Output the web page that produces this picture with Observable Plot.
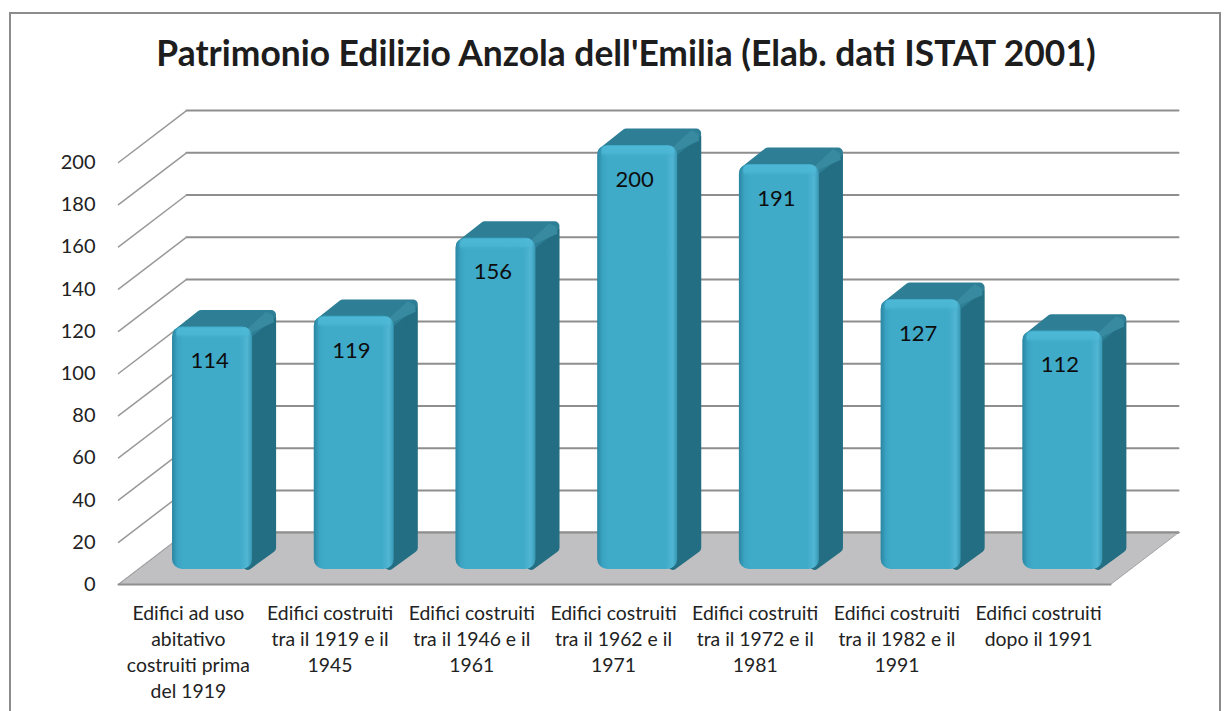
<!DOCTYPE html>
<html><head><meta charset="utf-8">
<script src="https://cdn.jsdelivr.net/npm/d3@7"></script>
<script src="https://cdn.jsdelivr.net/npm/@observablehq/plot@0.6"></script>
<style>
html,body{margin:0;padding:0;background:#fff;width:1231px;height:711px;overflow:hidden}
#frame{position:absolute;left:9px;top:12px;width:1212px;height:720px;border:2px solid #8c8c8c;box-sizing:border-box}
#title{position:absolute;left:0;top:31px;width:1252px;text-align:center;font:700 35.4px Lato,sans-serif;color:#1d1d1d;white-space:nowrap}
#chart{position:absolute;left:0;top:90px}
</style></head><body>
<div id="frame"></div>
<div id="title">Patrimonio Edilizio Anzola dell'Emilia (Elab. dati ISTAT 2001)</div>
<div id="chart"></div>
<script>
const chartTitle = "Patrimonio Edilizio Anzola dell'Emilia (Elab. dati ISTAT 2001)";
const categories = [
  "Edifici ad uso\nabitativo\ncostruiti prima\ndel 1919",
  "Edifici costruiti\ntra il 1919 e il\n1945",
  "Edifici costruiti\ntra il 1946 e il\n1961",
  "Edifici costruiti\ntra il 1962 e il\n1971",
  "Edifici costruiti\ntra il 1972 e il\n1981",
  "Edifici costruiti\ntra il 1982 e il\n1991",
  "Edifici costruiti\ndopo il 1991"
];
const values = [114, 119, 156, 200, 191, 127, 112];
const yTicks = [0,20,40,60,80,100,120,140,160,180,200];

// oblique projection: depth z in 0..1 shifts a point right (in slots) and up (in value units)
const shiftX = 0.48, shiftY = 24.6;
const px = (slot, z) => slot + z * shiftX;
const py = (v, z) => v + z * shiftY;
const zFront = 0.288, zBack = 0.62;
const inset = 0.243, barW = 0.565;

const bars = values.map((v, i) => ({i, v}));
const poly = (pts) => pts.map(([s, v, z]) => ({x: px(s, z), y: py(v, z)}));
const nCat = categories.length;

const floor = poly([[0,0,0],[nCat,0,0],[nCat,0,1],[0,0,1],[0,0,0]]);
const gridBack = yTicks.flatMap(t => poly([[0,t,1],[nCat,t,1]]).map(p => ({...p, t})));
const gridSide = yTicks.flatMap(t => poly([[0,t,0],[0,t,1]]).map(p => ({...p, t})));
const floorFront = poly([[0,0,0],[nCat,0,0]]);

const eps = 0.018, epv = 2.2;  // inset of the polygons so a round stroke gives rounded edges
const sideFaces = bars.flatMap(({i, v}) => {
  const r = i + inset + barW;
  return poly([[r-eps*2,v-epv*2,zFront],[r-eps*1.6,v-epv*1.3,zBack],[r-eps*1.6,epv,zBack],[r-eps*2,epv,zFront]]).map(p => ({...p, i}));
});
const topFaces = bars.flatMap(({i, v}) => {
  const l = i + inset, r = l + barW;
  return poly([[l+eps*2,v-epv,zFront],[l+eps*2.4,v-1.5,zBack],[r-eps*1.6,v-1.5,zBack],[r-eps*2,v-epv,zFront]]).map(p => ({...p, i}));
});
const cornerFaces = bars.flatMap(({i, v}) => {
  const r = i + inset + barW;
  return poly([[r-0.02,v-2,zFront],[r-0.008,v-5,zBack],[r-0.015,v-1.8,zBack],[r-0.065,v,zBack],[r-0.045,v-0.5,zFront]]).map(p => ({...p, i}));
});

const defs = () => {
  const s = d3.create("svg:defs");
  const g = s.append("linearGradient").attr("id","barFront").attr("x1",0).attr("x2",1).attr("y1",0).attr("y2",0);
  [[0,"#2a86a1"],[0.07,"#3ba4c3"],[0.14,"#40aac9"],[0.85,"#40aac9"],[0.94,"#50b6d3"],[0.985,"#3e9fbc"],[1,"#3592ae"]]
    .forEach(([o,c]) => g.append("stop").attr("offset",o).attr("stop-color",c));
  const h = s.append("linearGradient").attr("id","barTop").attr("x1",0).attr("x2",0).attr("y1",0).attr("y2",1);
  h.append("stop").attr("offset",0).attr("stop-color","#4fbad8").attr("stop-opacity",0.9);
  h.append("stop").attr("offset",0.6).attr("stop-color","#4db8d6").attr("stop-opacity",0.8);
  h.append("stop").attr("offset",1).attr("stop-color","#40aac9").attr("stop-opacity",0);
  return s.node();
};

const grey = "#8e8e8e";
const chart = Plot.plot({
  width: 1231, height: 621,
  marginLeft: 118, marginRight: 121, marginTop: 72, marginBottom: 127,
  style: {fontFamily: "Lato, sans-serif", background: "transparent", overflow: "visible"},
  x: {type: "linear", domain: [0, nCat]},
  y: {type: "linear", domain: [0, 200]},
  marks: [
    defs,
    Plot.line(gridBack, {x: "x", y: "y", z: "t", stroke: grey, strokeWidth: 2}),
    Plot.line(gridSide, {x: "x", y: "y", z: "t", stroke: "#999", strokeWidth: 1.5}),
    Plot.line(floor, {x: "x", y: "y", fill: "#c0c0c2", stroke: "#a2a2a4", strokeWidth: 1}),
    Plot.line(floorFront, {x: "x", y: "y", stroke: grey, strokeWidth: 2}),
    Plot.line(poly([[0,0,1],[nCat,0,1]]), {x: "x", y: "y", stroke: grey, strokeWidth: 2}),
    Plot.line(sideFaces, {x: "x", y: "y", z: "i", fill: "#236e82", stroke: "#236e82", strokeWidth: 10, strokeLinejoin: "round"}),
    Plot.line(topFaces, {x: "x", y: "y", z: "i", fill: "#2e7f96", stroke: "#2e7f96", strokeWidth: 10, strokeLinejoin: "round"}),
    Plot.line(cornerFaces, {x: "x", y: "y", z: "i", fill: "#378a9f", stroke: "none"}),
    Plot.rect(bars, {
      x1: d => px(d.i + inset, zFront), x2: d => px(d.i + inset + barW, zFront),
      y1: () => py(0, zFront), y2: d => py(d.v + 1, zFront),
      fill: "url(#barFront)", rx: 10
    }),
    Plot.rect(bars, {
      x1: d => px(d.i + inset + 0.03, zFront), x2: d => px(d.i + inset + barW - 0.02, zFront),
      y1: d => py(d.v - 5, zFront), y2: d => py(d.v + 0.5, zFront),
      fill: "url(#barTop)", rx: 5
    }),
    Plot.text(bars, {
      x: d => px(d.i + inset + barW / 2, zFront), y: d => py(d.v, zFront),
      text: d => String(d.v), dx: -3, dy: 32, fontSize: 22, fill: "#0d0d0d"
    }),
    Plot.axisY({ticks: yTicks, tickSize: 0, tickPadding: 23, fontSize: 20, fill: "#222", label: null, tickFormat: d => String(d)}),
    Plot.axisX({
      ticks: categories.map((c, i) => i + 0.5), tickSize: 0, tickPadding: 16.5, fontSize: 19.4, fill: "#222", label: null,
      lineHeight: 1.35, dx: -1, tickFormat: d => categories[d - 0.5]
    })
  ]
});
document.getElementById("chart").append(chart);
document.getElementById("title").textContent = chartTitle;
</script>
</body></html>
